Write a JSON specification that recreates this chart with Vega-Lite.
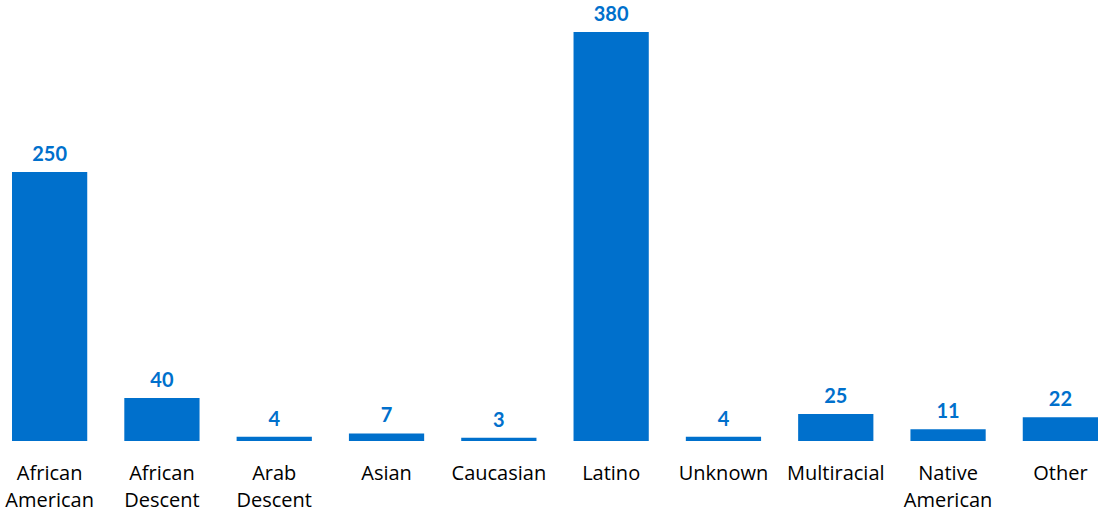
{
  "$schema": "https://vega.github.io/schema/vega-lite/v6.json",
  "autosize": {"type": "none"},
  "padding": {"left": 12, "top": 32, "right": 4, "bottom": 78},
  "width": 1086,
  "height": 409,
  "background": "white",
  "config": {"view": {"stroke": null}},
  "data": {"values": [
    {"group": "African American", "count": 250},
    {"group": "African Descent", "count": 40},
    {"group": "Arab Descent", "count": 4},
    {"group": "Asian", "count": 7},
    {"group": "Caucasian", "count": 3},
    {"group": "Latino", "count": 380},
    {"group": "Unknown", "count": 4},
    {"group": "Multiracial", "count": 25},
    {"group": "Native American", "count": 11},
    {"group": "Other", "count": 22}
  ]},
  "encoding": {
    "x": {
      "field": "group", "type": "nominal", "sort": null,
      "scale": {"paddingInner": 0.33, "paddingOuter": 0},
      "axis": {
        "title": null, "domain": false, "ticks": false, "labelAngle": 0,
        "labelFont": "Open Sans", "labelFontSize": 20, "labelColor": "#000000",
        "labelPadding": 22, "labelLineHeight": 27.5,
        "labelExpr": "datum.label == 'African American' ? ['African','American'] : datum.label == 'African Descent' ? ['African','Descent'] : datum.label == 'Arab Descent' ? ['Arab','Descent'] : datum.label == 'Native American' ? ['Native','American'] : datum.label"
      }
    },
    "y": {
      "field": "count", "type": "quantitative",
      "scale": {"domain": [0, 380], "nice": false},
      "axis": null
    }
  },
  "layer": [
    {"mark": {"type": "bar", "color": "#0070CC"}},
    {"mark": {"type": "text", "baseline": "alphabetic", "dy": -11, "font": "Lato", "fontSize": 20, "fontWeight": "bold", "color": "#0070CC"},
     "encoding": {"text": {"field": "count", "type": "quantitative"}}}
  ]
}
